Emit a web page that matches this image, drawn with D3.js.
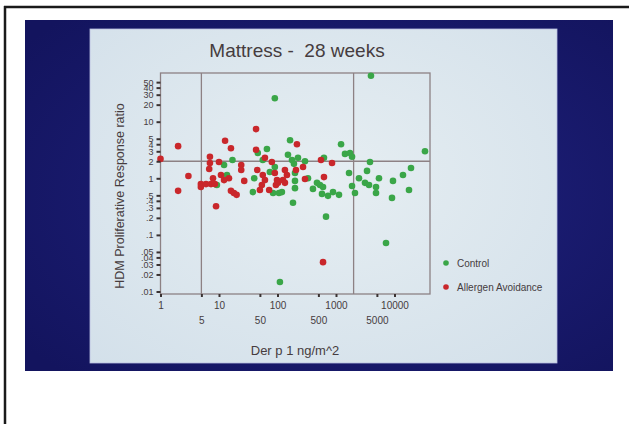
<!DOCTYPE html>
<html><head><meta charset="utf-8">
<script src="https://cdn.jsdelivr.net/npm/d3@7"></script>
<style>
html,body{margin:0;padding:0;background:#fff;}
svg{display:block;font-family:"Liberation Sans",Arial,sans-serif;}
</style></head>
<body>
<script>
// ---------- data ----------
const title = "Mattress -  28 weeks";
const xTitle = "Der p 1 ng/m^2";
const yTitle = "HDM Proliferative Response ratio";
const seriesNames = ["Control", "Allergen Avoidance"];

const xTicks = [1, 5, 10, 50, 100, 500, 1000, 5000, 10000];
const xLabelsRow1 = [1, 10, 100, 1000, 10000];
const xLabelsRow2 = [5, 50, 500, 5000];
const yTicks = [50, 40, 30, 20, 10, 5, 4, 3, 2, 1, .5, .4, .3, .2, .1, .05, .04, .03, .02, .01];
const yTickLabels = ["50","40","30","20","10","5","4","3","2","1",".5",".4",".3",".2",".1",".05",".04",".03",".02",".01"];
const refX = [5, 2000];
const refY = [2];

// Control (green): [Der p 1, ratio]
const controlX = [90,3960,164,1220,1425,1735,1880,66,46,17,12.2,13.7,9.2,40,38,84,106,119,151,177,191,199,199,199,184,295,623,332,473,532,600,404,576,730,889,1125,675,1670,1880,2110,2470,3130,3670,3390,3810,4830,4830,5430,9420,9060,13970,17700,19150,33200,7160,110,90,74,56,224];
const controlY = [26,65,4.7,4.0,2.7,2.8,2.4,3.3,2.8,2.1,1.72,1.14,0.76,1.0,0.57,0.55,0.55,0.57,2.6,2.1,1.8,1.24,0.9,0.67,0.37,2.0,2.3,1.0,0.83,0.76,0.70,0.65,0.53,0.49,0.57,0.51,0.21,1.24,0.73,0.55,1.0,0.83,0.76,1.35,1.94,0.70,0.55,1.0,0.9,0.45,1.14,0.62,1.52,3.0,0.072,0.0147,1.58,1.29,2.1,2.3];

// Allergen Avoidance (red)
const avoidX = [1,2,2,3,4.9,4.9,7,7,6.8,7.3,7.9,8.9,10,10.8,12.7,16,14.8,12.2,16,18,20,24,24,27,43,43,45,61,56,61,54,50,72,80,90,98,102,134,145,124,134,207,215,273,295,554,855,623,600,94,8.5,6];
const avoidY = [2.2,3.7,0.6,1.1,0.79,0.70,2.4,1.86,1.46,0.79,1.0,0.32,1.94,1.14,4.6,3.4,1.0,0.93,0.6,0.55,0.51,1.72,1.4,0.9,7.4,3.2,1.4,2.3,1.14,0.93,0.76,0.62,0.62,1.94,1.24,0.93,0.83,1.4,1.14,0.93,0.83,1.4,4.0,1.58,0.97,2.1,1.86,1.05,0.033,0.76,0.79,0.79];

// ---------- drawing ----------
const W = 629, H = 424;
const svg = d3.select("body").append("svg").attr("width", W).attr("height", H);

const defs = svg.append("defs");
const bg = defs.append("radialGradient").attr("id","blueg").attr("cx","55%").attr("cy","50%").attr("r","70%");
bg.append("stop").attr("offset","0%").attr("stop-color","#202280");
bg.append("stop").attr("offset","100%").attr("stop-color","#13145e");
const lg = defs.append("radialGradient").attr("id","lightg").attr("cx","50%").attr("cy","45%").attr("r","75%");
lg.append("stop").attr("offset","0%").attr("stop-color","#e6eef2");
lg.append("stop").attr("offset","100%").attr("stop-color","#d3e0ea");

// outer frame lines
svg.append("line").attr("x1",4).attr("x2",W).attr("y1",7).attr("y2",7).attr("stroke","#1a1a1a").attr("stroke-width",2.5);
svg.append("line").attr("x1",5).attr("x2",5).attr("y1",6).attr("y2",H).attr("stroke","#1a1a1a").attr("stroke-width",2.5);

// blue slide surround
svg.append("rect").attr("x",25).attr("y",20).attr("width",588).attr("height",351).attr("fill","url(#blueg)");
// light slide panel
svg.append("rect").attr("x",90).attr("y",29).attr("width",467).attr("height",334).attr("fill","url(#lightg)")
  .attr("stroke","#b9bfe0").attr("stroke-width",0.8);

const textCol = "#463c3e";
const lineCol = "#8d8184";

svg.append("text").attr("x",297).attr("y",57).attr("text-anchor","middle")
  .style("white-space","pre").attr("font-size",19).attr("fill",textCol).text(title);

const x = d3.scaleLog().domain([1, 40450]).range([160.5, 430]);
const y = d3.scaleLog().domain([0.00903, 72.5]).range([294, 73]);

const plot = svg.append("g");
// frame
plot.append("rect").attr("x",x.range()[0]).attr("y",y.range()[1])
  .attr("width",x.range()[1]-x.range()[0]).attr("height",y.range()[0]-y.range()[1])
  .attr("fill","none").attr("stroke",lineCol).attr("stroke-width",1.3);
// reference lines
plot.selectAll(".rx").data(refX).join("line")
  .attr("x1",d=>x(d)).attr("x2",d=>x(d)).attr("y1",y.range()[0]).attr("y2",y.range()[1])
  .attr("stroke",lineCol).attr("stroke-width",1.3);
plot.selectAll(".ry").data(refY).join("line")
  .attr("y1",d=>y(d)).attr("y2",d=>y(d)).attr("x1",x.range()[0]).attr("x2",x.range()[1])
  .attr("stroke",lineCol).attr("stroke-width",1.3);

// y axis
const yAxis = d3.axisLeft(y).tickValues(yTicks)
  .tickFormat((d,i)=>yTickLabels[i]).tickSize(4).tickPadding(3);
const gy = svg.append("g").attr("transform",`translate(${x.range()[0]},0)`).call(yAxis);
gy.select(".domain").remove();
gy.selectAll(".tick line").attr("stroke","#3a3232").attr("stroke-width",2);
gy.selectAll(".tick text").attr("fill",textCol).attr("font-size",9)
  .attr("font-family","Liberation Sans, Arial, sans-serif");

// x axis
const xAxis = d3.axisBottom(x).tickValues(xTicks)
  .tickFormat(d => xLabelsRow1.includes(d) ? String(d) : String(d)).tickSize(3).tickPadding(5);
const gx = svg.append("g").attr("transform",`translate(0,${y.range()[0]})`).call(xAxis);
gx.select(".domain").remove();
gx.selectAll(".tick line").attr("stroke","#3a3232").attr("stroke-width",2);
gx.selectAll(".tick text").attr("fill",textCol).attr("font-size",10)
  .attr("font-family","Liberation Sans, Arial, sans-serif")
  .attr("dy", d => xLabelsRow2.includes(d) ? "2.2em" : "0.71em");

svg.append("text").attr("x",295).attr("y",355).attr("text-anchor","middle")
  .attr("font-size",13).attr("fill",textCol).text(xTitle);
svg.append("text").attr("transform","translate(124,196) rotate(-90)").attr("text-anchor","middle")
  .attr("font-size",12.5).attr("fill",textCol).text(yTitle);

const green = "#3aa648", red = "#c9272b";
const ctrl = controlX.map((v,i)=>({x:v,y:controlY[i]}));
const avd = avoidX.map((v,i)=>({x:v,y:avoidY[i]}));
plot.selectAll(".c").data(ctrl).join("circle")
  .attr("cx",d=>x(d.x)).attr("cy",d=>y(d.y)).attr("r",3.3).attr("fill",green);
plot.selectAll(".a").data(avd).join("circle")
  .attr("cx",d=>x(d.x)).attr("cy",d=>y(d.y)).attr("r",3.3).attr("fill",red);

// legend
const leg = svg.append("g");
[green, red].forEach((c,i)=>{
  leg.append("circle").attr("cx",446).attr("cy",263+i*24).attr("r",2.8).attr("fill",c);
  leg.append("text").attr("x",457).attr("y",266.5+i*24).attr("font-size",10)
    .attr("fill",textCol).text(seriesNames[i]);
});
</script>
</body></html>
